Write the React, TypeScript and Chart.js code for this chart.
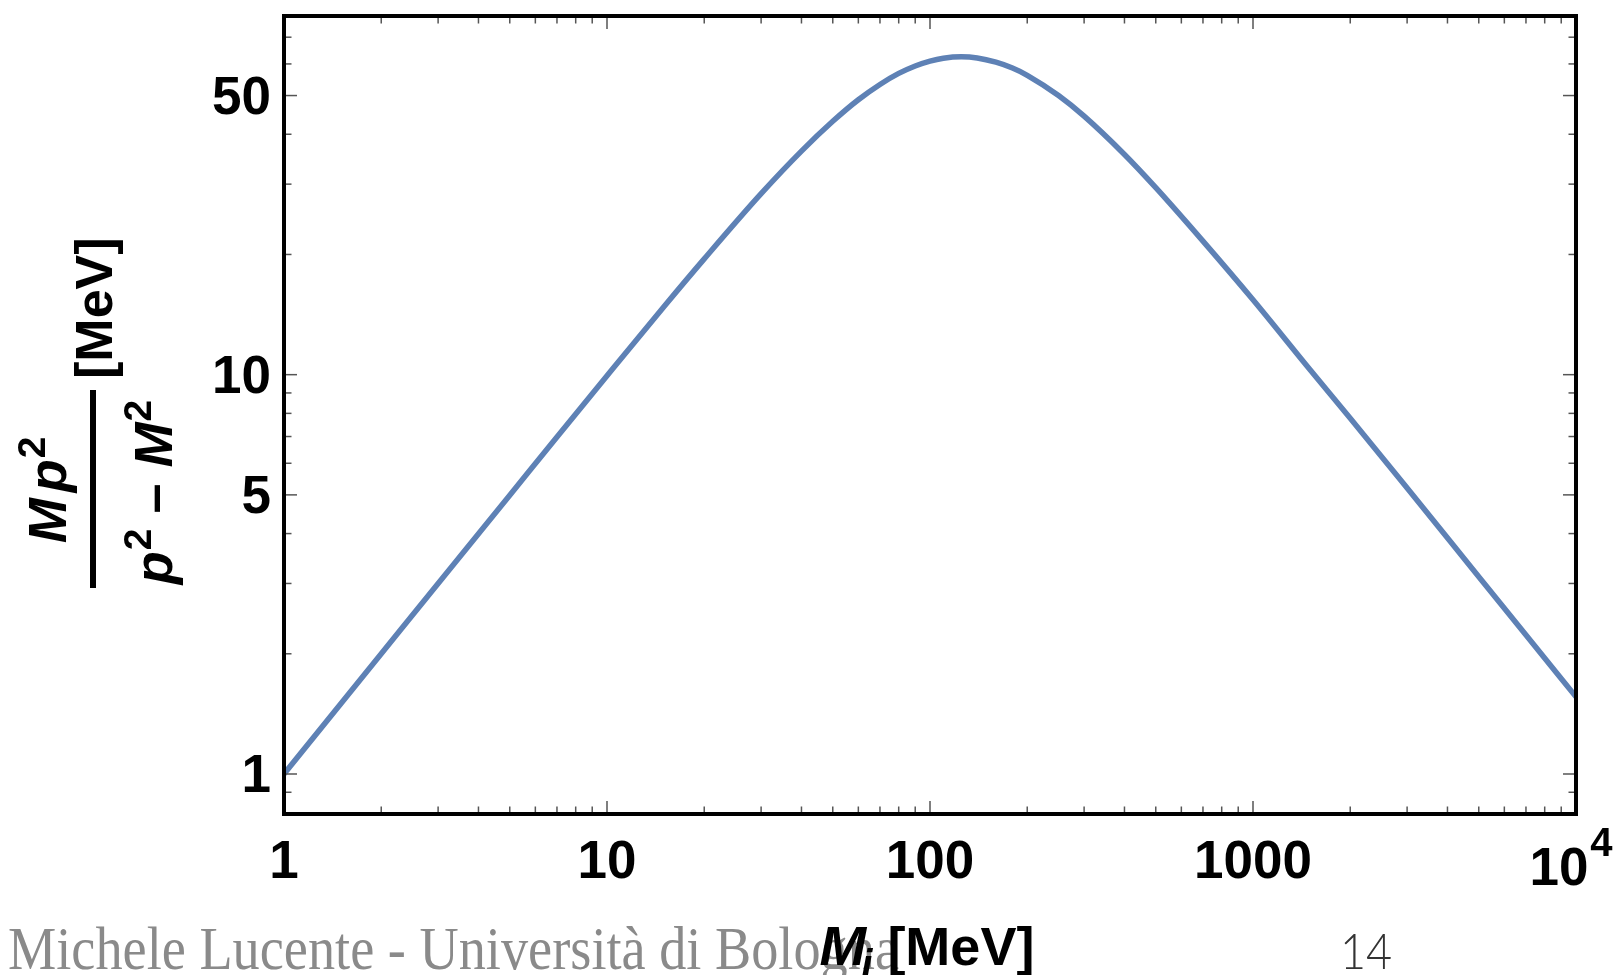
import React, { useEffect, useRef } from "react";
import { Chart, registerables } from "chart.js";

Chart.register(...registerables);

// Mass M_i [MeV] (x) and M p^2/(p^2 - M^2) [MeV] (y)
const massValues = [1, 2, 3, 5, 7, 10, 15, 20, 30, 40, 50, 60, 70, 80, 90, 100, 110, 125, 140, 160, 180, 200, 250, 300, 400, 500, 700, 1000, 1500, 2000, 3000, 5000, 7000, 10000];
const ratioValues = [1.0, 2.0, 3.0, 4.99, 6.98, 9.94, 14.8, 19.5, 28.4, 36.3, 43.1, 48.8, 53.3, 56.8, 59.3, 61.0, 62.0, 62.5, 62.1, 60.6, 58.6, 56.2, 50.0, 44.4, 35.6, 29.4, 21.6, 15.4, 10.3, 7.78, 5.2, 3.12, 2.23, 1.56];

const xMajorTicks = [1, 10, 100, 1000, 10000];
const xTickLabels = ["1", "10", "100", "1000", "10^4"];
const xMinorTicks = [2, 3, 4, 5, 6, 7, 8, 9, 20, 30, 40, 50, 60, 70, 80, 90, 200, 300, 400, 500, 600, 700, 800, 900, 2000, 3000, 4000, 5000, 6000, 7000, 8000, 9000];
const yMajorTicks = [1, 5, 10, 50];
const yTickLabels = ["1", "5", "10", "50"];
const yMinorTicks = [0.9, 2, 3, 4, 6, 7, 8, 9, 20, 30, 40, 60, 70];

const X_MIN = 1;
const X_MAX = 10000;
const Y_MIN = 0.794;
const Y_MAX = 79.1;

const footerText = "Michele Lucente - Università di Bologna";
const pageNumber = "14";

const SANS = '"Liberation Sans", Arial, Helvetica, sans-serif';
const SERIF = '"Liberation Serif", "Times New Roman", serif';

type Run = { text: string; font: string; dy?: number; gap?: number };

function runsWidth(ctx: CanvasRenderingContext2D, runs: Run[]) {
  let w = 0;
  for (const r of runs) {
    ctx.font = r.font;
    w += ctx.measureText(r.text).width + (r.gap || 0);
  }
  return w;
}

function drawRuns(ctx: CanvasRenderingContext2D, runs: Run[], x: number, y: number) {
  let cx = x;
  ctx.textAlign = "left";
  ctx.textBaseline = "alphabetic";
  for (const r of runs) {
    ctx.font = r.font;
    ctx.fillText(r.text, cx, y + (r.dy || 0));
    cx += ctx.measureText(r.text).width + (r.gap || 0);
  }
}

const framePlugin = {
  id: "mathematicaFrame",
  afterDraw(chart: any) {
    const ctx: CanvasRenderingContext2D = chart.ctx;
    const { left, right, top, bottom } = chart.chartArea;
    const xs = chart.scales.x;
    const ys = chart.scales.y;
    ctx.save();

    // slide footer
    ctx.save();
    ctx.translate(8, 969);
    ctx.scale(0.89, 1);
    ctx.font = "61px " + SERIF;
    ctx.fillStyle = "#8a8a8a";
    ctx.textAlign = "left";
    ctx.textBaseline = "alphabetic";
    ctx.fillText(footerText, 0, 0);
    ctx.restore();

    ctx.save();
    ctx.translate(1340, 969);
    ctx.scale(0.9, 1);
    ctx.font = '300 50px Lato, "Liberation Sans", sans-serif';
    ctx.fillStyle = "#333333";
    ctx.textAlign = "left";
    ctx.fillText(pageNumber, 0, 0);
    ctx.restore();

    // ticks (inward, all four sides)
    ctx.strokeStyle = "#555555";
    ctx.lineWidth = 1.5;
    const tick = (x1: number, y1: number, x2: number, y2: number) => {
      ctx.beginPath();
      ctx.moveTo(x1, y1);
      ctx.lineTo(x2, y2);
      ctx.stroke();
    };
    const drawX = (v: number, len: number) => {
      const px = xs.getPixelForValue(v);
      if (px <= left + 2 || px >= right - 2) return;
      tick(px, bottom, px, bottom - len);
      tick(px, top, px, top + len);
    };
    const drawY = (v: number, len: number) => {
      const py = ys.getPixelForValue(v);
      if (py <= top + 2 || py >= bottom - 2) return;
      tick(left, py, left + len, py);
      tick(right, py, right - len, py);
    };
    xMinorTicks.forEach((v) => drawX(v, 7.5));
    xMajorTicks.forEach((v) => drawX(v, 13));
    yMinorTicks.forEach((v) => drawY(v, 7.5));
    yMajorTicks.forEach((v) => drawY(v, 13));

    // frame
    ctx.strokeStyle = "#000000";
    ctx.lineWidth = 4;
    ctx.lineJoin = "miter";
    ctx.strokeRect(left, top, right - left, bottom - top);

    // tick labels
    ctx.fillStyle = "#000000";
    const labelFont = "bold 53px " + SANS;
    ctx.font = labelFont;
    ctx.textBaseline = "alphabetic";
    yMajorTicks.forEach((v, i) => {
      const py = ys.getPixelForValue(v);
      ctx.font = labelFont;
      ctx.textAlign = "right";
      ctx.fillText(yTickLabels[i], left - 13, py + 18);
    });
    xMajorTicks.forEach((v, i) => {
      const px = xs.getPixelForValue(v);
      const lab = xTickLabels[i];
      if (lab.includes("^")) {
        const [base, exp] = lab.split("^");
        const runs: Run[] = [
          { text: base, font: labelFont, gap: 2 },
          { text: exp, font: "bold 40px " + SANS, dy: -29 },
        ];
        const w = runsWidth(ctx, runs);
        drawRuns(ctx, runs, px - w / 2 - 5, 885);
      } else {
        ctx.font = labelFont;
        ctx.textAlign = "center";
        ctx.fillText(lab, px, 878);
      }
    });

    // x-axis title: M_i [MeV]
    const xt: Run[] = [
      { text: "M", font: "italic bold 56px " + SANS, gap: -5 },
      { text: "i", font: "italic bold 40px " + SANS, dy: 13, gap: 15 },
      { text: "[MeV]", font: "bold 54px " + SANS },
    ];
    const xtw = runsWidth(ctx, xt);
    drawRuns(ctx, xt, (left + right) / 2 - xtw / 2 - 3, 965);

    // y-axis title: (M p^2)/(p^2 - M^2) [MeV], rotated
    ctx.save();
    ctx.translate(0, 490);
    ctx.rotate(-Math.PI / 2);
    // fraction bar
    ctx.fillRect(-98, 90, 198, 6);
    const num: Run[] = [
      { text: "M", font: "italic bold 54px " + SANS, gap: 6 },
      { text: "p", font: "italic bold 54px " + SANS, gap: 1 },
      { text: "2", font: "bold 39px " + SANS, dy: -21 },
    ];
    const nw = runsWidth(ctx, num);
    drawRuns(ctx, num, -nw / 2, 66);
    const den: Run[] = [
      { text: "p", font: "italic bold 54px " + SANS, gap: 1 },
      { text: "2", font: "bold 39px " + SANS, dy: -21, gap: 15 },
      { text: "\u2013", font: "bold 54px " + SANS, gap: 16 },
      { text: "M", font: "italic bold 54px " + SANS, gap: 1 },
      { text: "2", font: "bold 39px " + SANS, dy: -21 },
    ];
    const dw = runsWidth(ctx, den);
    drawRuns(ctx, den, -2 - dw / 2, 172);
    drawRuns(ctx, [{ text: "[MeV]", font: "bold 52px " + SANS }], 111, 112);
    ctx.restore();

    ctx.restore();
  },
};

export default function App() {
  const canvasRef = useRef<HTMLCanvasElement | null>(null);

  useEffect(() => {
    const canvas = canvasRef.current;
    if (!canvas) return;
    const points = massValues.map((m, i) => ({ x: m, y: ratioValues[i] }));
    const chart = new Chart(canvas, {
      type: "scatter",
      data: {
        datasets: [
          {
            label: "M p²/(p² − M²)",
            data: points,
            showLine: true,
            borderColor: "#5E81B5",
            backgroundColor: "#5E81B5",
            borderWidth: 5.5,
            pointRadius: 0,
            pointHoverRadius: 0,
            cubicInterpolationMode: "monotone",
            fill: false,
          } as any,
        ],
      },
      options: {
        animation: false,
        responsive: false,
        devicePixelRatio: 1,
        layout: { padding: { left: 284, top: 16, right: 41, bottom: 161 } },
        plugins: {
          legend: { display: false },
          tooltip: { enabled: false },
        },
        events: [],
        scales: {
          x: { type: "logarithmic", min: X_MIN, max: X_MAX, display: false },
          y: { type: "logarithmic", min: Y_MIN, max: Y_MAX, display: false },
        },
      },
      plugins: [framePlugin],
    });
    return () => chart.destroy();
  }, []);

  return (
    <div style={{ position: "absolute", left: 0, top: 0, width: 1617, height: 975, background: "#ffffff", overflow: "hidden" }}>
      <canvas ref={canvasRef} width={1617} height={975} style={{ display: "block", width: 1617, height: 975 }} />
    </div>
  );
}
